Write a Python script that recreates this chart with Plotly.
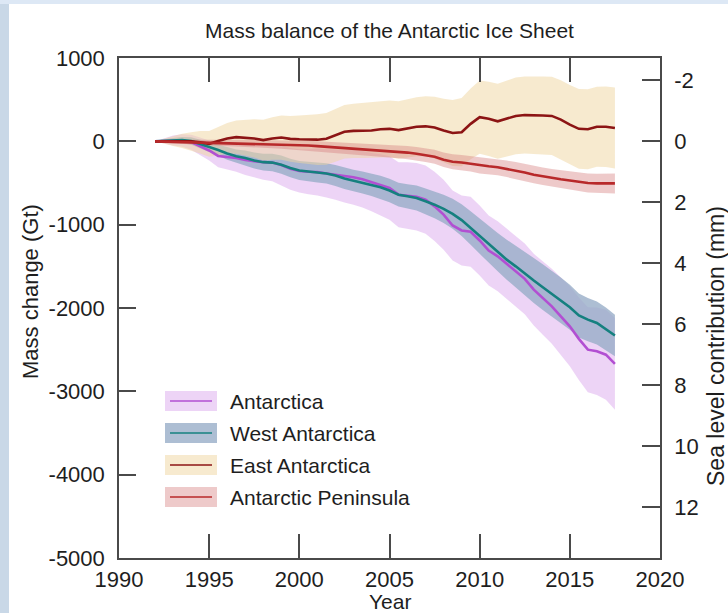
import plotly.graph_objects as go

# ---------------- data ----------------
years = [1992.0, 1992.5, 1993.0, 1993.5, 1994.0, 1994.5, 1995.0, 1995.5, 1996.0, 1996.5,
         1997.0, 1997.5, 1998.0, 1998.5, 1999.0, 1999.5, 2000.0, 2000.5, 2001.0, 2001.5,
         2002.0, 2002.5, 2003.0, 2003.5, 2004.0, 2004.5, 2005.0, 2005.5, 2006.0, 2006.5,
         2007.0, 2007.5, 2008.0, 2008.5, 2009.0, 2009.5, 2010.0, 2010.5, 2011.0, 2011.5,
         2012.0, 2012.5, 2013.0, 2013.5, 2014.0, 2014.5, 2015.0, 2015.5, 2016.0, 2016.5,
         2017.0, 2017.5]

antarctica = [0, 5, 10, 10, -10, -60, -110, -175, -190, -200,
              -225, -240, -250, -255, -285, -330, -355, -365, -370, -385,
              -400, -420, -430, -455, -490, -520, -560, -640, -650, -665,
              -700, -780, -880, -1010, -1070, -1085, -1190, -1310, -1380, -1470,
              -1560, -1650, -1780, -1880, -1980, -2100, -2220, -2370, -2500, -2520,
              -2560, -2670]
antarctica_err = [0, 30, 60, 75, 90, 105, 120, 135, 150, 165,
                  180, 195, 210, 225, 240, 250, 260, 270, 280, 290,
                  300, 315, 330, 340, 350, 365, 380, 390, 400, 405,
                  410, 415, 420, 420, 420, 420, 420, 420, 420, 420,
                  420, 425, 430, 440, 450, 465, 480, 495, 510, 525,
                  540, 550]

west = [0, 5, 10, 15, 5, -30, -70, -105, -145, -180,
        -200, -230, -250, -255, -280, -320, -350, -365, -375, -385,
        -410, -445, -470, -495, -520, -550, -590, -640, -660, -680,
        -720, -760, -810, -870, -945, -1040, -1140, -1240, -1330, -1420,
        -1500, -1590, -1670, -1750, -1830, -1910, -1990, -2090, -2140, -2180,
        -2250, -2330]
west_err = [0, 20, 30, 38, 45, 52, 60, 68, 75, 82,
            90, 95, 100, 105, 110, 112, 115, 118, 120, 122,
            125, 128, 130, 132, 135, 138, 140, 142, 145, 150,
            155, 162, 170, 180, 190, 200, 210, 220, 230, 240,
            250, 260, 270, 275, 280, 275, 270, 265, 260, 258,
            255, 250]

east = [0, 0, 5, 5, 0, -10, -30, 5, 35, 50,
        45, 35, 15, 35, 45, 30, 25, 20, 20, 30,
        70, 115, 125, 130, 130, 145, 150, 135, 155, 175,
        180, 165, 130, 100, 110, 210, 290, 270, 240, 270,
        305, 315, 315, 310, 305, 260, 200, 150, 145, 175,
        175, 160]
east_err = [0, 30, 60, 85, 110, 135, 155, 170, 185, 200,
            215, 230, 245, 255, 265, 275, 285, 295, 305, 310,
            315, 320, 325, 330, 335, 338, 340, 345, 350, 355,
            360, 370, 380, 395, 410, 425, 440, 445, 450, 455,
            460, 462, 465, 468, 470, 472, 475, 478, 480, 480,
            482, 485]

peninsula = [0, -3, -5, -8, -10, -12, -15, -18, -20, -22,
             -25, -28, -30, -33, -37, -40, -45, -50, -58, -65,
             -72, -80, -88, -95, -102, -110, -118, -125, -135, -148,
             -165, -185, -220, -245, -255, -270, -290, -300, -310, -330,
             -350, -375, -400, -420, -440, -455, -470, -485, -500, -505,
             -505, -505]
peninsula_err = [0, 10, 20, 25, 28, 32, 35, 37, 39, 41,
                 43, 45, 47, 49, 51, 53, 55, 57, 59, 61,
                 63, 65, 67, 69, 71, 73, 75, 77, 79, 81,
                 83, 85, 87, 89, 91, 93, 95, 96, 98, 99,
                 101, 102, 104, 105, 107, 108, 110, 112, 114, 116,
                 118, 120]

series_names = ["Antarctica", "West Antarctica", "East Antarctica", "Antarctic Peninsula"]
x_ticks = [1990, 1995, 2000, 2005, 2010, 2015, 2020]
x_tick_labels = ["1990", "1995", "2000", "2005", "2010", "2015", "2020"]
mass_ticks = [1000, 0, -1000, -2000, -3000, -4000, -5000]
mass_tick_labels = ["1000", "0", "-1000", "-2000", "-3000", "-4000", "-5000"]
sea_ticks = [-2, 0, 2, 4, 6, 8, 10, 12]
sea_tick_labels = ["-2", "0", "2", "4", "6", "8", "10", "12"]
GT_PER_MM = 366.0

# ---------------- styles ----------------
line_colors = ["#b24fd2", "#15807f", "#8c1414", "#b8292a"]
band_colors = ["rgba(222,176,238,0.55)", "rgba(150,172,198,0.78)",
               "rgba(240,214,160,0.5)", "rgba(214,128,128,0.42)"]
FONT = "Liberation Sans, Arial, sans-serif"
TXT = "#1e1e1e"
AX = "#4a4a4a"

W, H = 728, 613
L, R, T, B = 119, 660, 58, 558


def px(xp):
    return (xp - L) / (R - L)


def py(yp):
    return (B - yp) / (B - T)


fig = go.Figure()

values = [antarctica, west, east, peninsula]
errs = [antarctica_err, west_err, east_err, peninsula_err]

for v, e, c in zip(values, errs, band_colors):
    upper = [a + b for a, b in zip(v, e)]
    lower = [a - b for a, b in zip(v, e)]
    fig.add_trace(go.Scatter(x=years + years[::-1], y=upper + lower[::-1],
                             fill="toself", fillcolor=c, mode="lines",
                             line=dict(width=0), hoverinfo="skip", showlegend=False))

for v, c, n in zip(values, line_colors, series_names):
    fig.add_trace(go.Scatter(x=years, y=v, mode="lines", name=n,
                             line=dict(color=c, width=2.6), showlegend=False))

# invisible trace to activate the sea-level axis
fig.add_trace(go.Scatter(x=[years[0]], y=[0], yaxis="y2", mode="markers",
                         marker=dict(opacity=0), hoverinfo="skip", showlegend=False))

tickfont = dict(family=FONT, size=22, color=TXT)

fig.update_layout(
    width=W, height=H,
    margin=dict(l=L, r=W - R, t=T, b=H - B),
    paper_bgcolor="white", plot_bgcolor="white",
    title=dict(text="Mass balance of the Antarctic Ice Sheet", x=0.5, xref="paper",
               y=1 - 31 / H, yref="container", xanchor="center", yanchor="middle",
               font=dict(family=FONT, size=21, color=TXT)),
    xaxis=dict(range=[1990, 2020], tickvals=x_ticks, ticktext=x_tick_labels,
               ticks="inside", ticklen=24,
               tickwidth=1.5, tickcolor=AX, showline=True, linecolor=AX, linewidth=1.5,
               mirror="ticks", showgrid=False, zeroline=False, tickfont=tickfont,
               ticklabelstandoff=1),
    yaxis=dict(range=[-5000, 1000], tickvals=mass_ticks, ticktext=mass_tick_labels,
               ticks="inside", ticklen=17,
               tickwidth=1.5, tickcolor=AX, showline=True, linecolor=AX, linewidth=1.5,
               mirror=True, showgrid=False, zeroline=False, tickfont=tickfont,
               ticklabelstandoff=8),
    yaxis2=dict(range=[5000 / GT_PER_MM, -1000 / GT_PER_MM], overlaying="y", side="right",
                tickvals=sea_ticks, ticktext=sea_tick_labels, ticks="inside", ticklen=18,
                tickwidth=1.5, tickcolor=AX, showline=True, linecolor=AX, linewidth=1.5,
                showgrid=False, zeroline=False, tickfont=tickfont, ticklabelstandoff=8),
    showlegend=False,
)

shapes = []
annotations = []
# background strips (blue image edge)
shapes.append(dict(type="rect", xref="paper", yref="paper", x0=px(0), x1=px(9),
                   y0=py(H), y1=py(0), fillcolor="#c9d8e7", line=dict(width=0), layer="below"))
shapes.append(dict(type="rect", xref="paper", yref="paper", x0=px(0), x1=px(W),
                   y0=py(4), y1=py(0), fillcolor="#dde8f5", line=dict(width=0), layer="below"))

# legend
row_y = [401, 433, 465, 497]
for n, lc, bc, ry in zip(series_names, line_colors, band_colors, row_y):
    shapes.append(dict(type="rect", xref="paper", yref="paper", x0=px(165), x1=px(217),
                       y0=py(ry + 10), y1=py(ry - 10), fillcolor=bc, line=dict(width=0)))
    shapes.append(dict(type="line", xref="paper", yref="paper", x0=px(170), x1=px(212),
                       y0=py(ry), y1=py(ry), line=dict(color=lc, width=1.6)))
    annotations.append(dict(text=n, xref="paper", yref="paper", x=px(228), y=py(ry),
                            xanchor="left", yanchor="middle", showarrow=False,
                            font=dict(family=FONT, size=21, color=TXT)))

# axis titles
annotations.append(dict(text="Mass change (Gt)", xref="paper", yref="paper", x=px(30), y=py(292),
                        textangle=-90, showarrow=False, xanchor="center", yanchor="middle",
                        font=dict(family=FONT, size=22, color=TXT)))
annotations.append(dict(text="Sea level contribution (mm)", xref="paper", yref="paper",
                        x=px(716), y=py(346), textangle=-90, showarrow=False,
                        xanchor="center", yanchor="middle",
                        font=dict(family=FONT, size=23, color=TXT)))
annotations.append(dict(text="Year", xref="paper", yref="paper", x=px(390), y=py(601),
                        showarrow=False, xanchor="center", yanchor="middle",
                        font=dict(family=FONT, size=21, color=TXT)))

fig.update_layout(shapes=shapes, annotations=annotations)
fig.write_html("out.html", config={"displayModeBar": False},
               post_script="document.body.style.margin='0';")
